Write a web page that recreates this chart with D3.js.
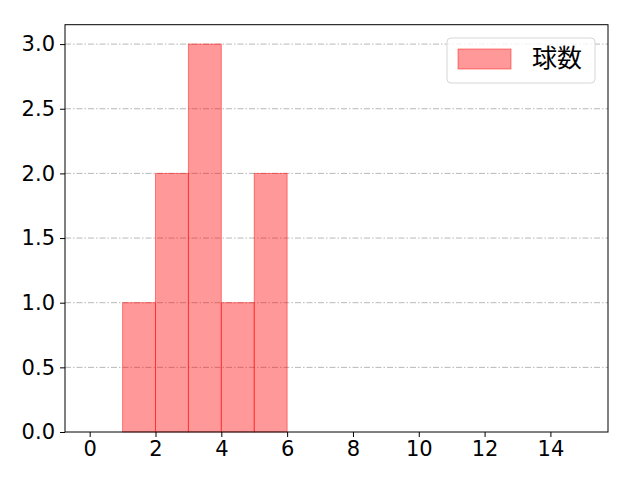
<!DOCTYPE html>
<html>
<head>
<meta charset="utf-8">
<script src="https://cdn.jsdelivr.net/npm/d3@7"></script>
<style>
  body { margin: 0; background: #fff; }
  svg { font-family: "Noto Sans CJK JP", "Noto Sans", sans-serif; }
</style>
</head>
<body>
<svg id="chart" width="640" height="480"></svg>
<script>
// histogram bins (left edges) and their counts
const binStarts = [0, 1, 2, 3, 4, 5, 6, 7, 8, 9, 10, 11, 12, 13, 14]
const counts = [0, 1, 2, 3, 1, 2, 0, 0, 0, 0, 0, 0, 0, 0, 0]
const xTicks = [0, 2, 4, 6, 8, 10, 12, 14]
const yTicks = [0, 0.5, 1, 1.5, 2, 2.5, 3]
const seriesName = "球数"

const margin = { left: 65, right: 32, top: 24.7, bottom: 48 }
const width = 640, height = 480

const svg = d3.select("#chart")

const x = d3.scaleLinear()
  .domain([-0.75, 15.75])
  .range([margin.left, width - margin.right])

const y = d3.scaleLinear()
  .domain([0, 3.15])
  .range([height - margin.bottom, margin.top])

// grid
svg.append("g")
  .selectAll("line")
  .data(yTicks.filter(d => d > 0))
  .enter()
  .append("line")
  .attr("x1", x.range()[0])
  .attr("x2", x.range()[1])
  .attr("y1", d => y(d))
  .attr("y2", d => y(d))
  .attr("stroke", "#b0b0b0")
  .attr("stroke-width", 0.9)
  .attr("stroke-dasharray", "6,2,1.5,2")

// bars
const bins = binStarts.map((s, i) => ({ x0: s, x1: s + 1, n: counts[i] })).filter(d => d.n > 0)
svg.append("g")
  .selectAll("rect")
  .data(bins)
  .enter()
  .append("rect")
  .attr("x", d => x(d.x0))
  .attr("width", d => x(d.x1) - x(d.x0))
  .attr("y", d => y(d.n))
  .attr("height", d => y(0) - y(d.n))
  .attr("fill", "rgba(255,0,0,0.4)")
  .attr("stroke", "rgba(255,0,0,0.45)")
  .attr("stroke-width", 1)

// axes
const xAxis = d3.axisBottom(x).tickValues(xTicks).tickFormat(d3.format("d")).tickSize(5).tickPadding(4)
const gx = svg.append("g")
  .attr("transform", `translate(0, ${y(0)})`)
  .call(xAxis)

const yAxis = d3.axisLeft(y).tickValues(yTicks).tickFormat(d3.format(".1f")).tickSize(5).tickPadding(5)
const gy = svg.append("g")
  .attr("transform", `translate(${x.range()[0]}, 0)`)
  .call(yAxis)

for (const g of [gx, gy]) {
  g.attr("font-size", null).attr("font-family", null)
  g.select(".domain").remove()
  g.selectAll("text")
    .style("font-size", "21px")
    .style("font-family", "'DejaVu Sans'")
    .attr("fill", "#000")
  g.selectAll("line").attr("stroke", "#000").attr("stroke-width", 1)
}

// frame
svg.append("rect")
  .attr("x", x.range()[0])
  .attr("y", y.range()[1])
  .attr("width", x.range()[1] - x.range()[0])
  .attr("height", y.range()[0] - y.range()[1])
  .attr("fill", "none")
  .attr("stroke", "#000")
  .attr("stroke-width", 1)

// legend
const lg = svg.append("g").attr("transform", "translate(447, 38)")
lg.append("rect")
  .attr("width", 148).attr("height", 45).attr("rx", 4)
  .attr("fill", "rgba(255,255,255,0.8)")
  .attr("stroke", "#d6d6d6")
lg.append("rect")
  .attr("x", 11).attr("y", 11).attr("width", 53).attr("height", 20)
  .attr("fill", "rgba(255,0,0,0.4)")
  .attr("stroke", "rgba(255,0,0,0.45)")
lg.append("text")
  .attr("x", 85).attr("y", 29)
  .style("font-size", "25px")
  .attr("fill", "#000")
  .text(seriesName)
</script>
</body>
</html>
